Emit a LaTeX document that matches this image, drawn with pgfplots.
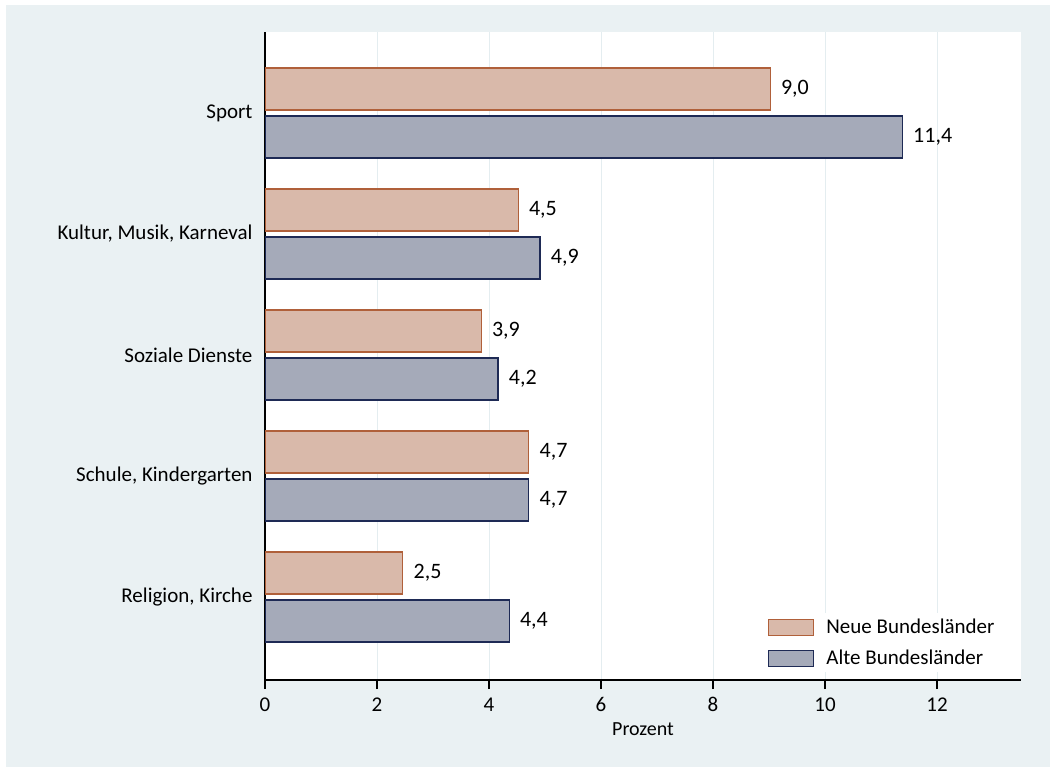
\documentclass[border=0pt]{standalone}
\usepackage{pgfplots}
\pgfplotsset{compat=1.18}
\usepackage{fontspec}
\setmainfont{Carlito}
\definecolor{bg}{HTML}{EAF1F3}
\definecolor{gridc}{HTML}{E4EDF0}
\definecolor{neuefill}{HTML}{D9B9AA}
\definecolor{neueedge}{HTML}{B0603A}
\definecolor{altefill}{HTML}{A5AAB9}
\definecolor{alteedge}{HTML}{1E2A55}
\begin{document}
\begin{tikzpicture}
\useasboundingbox (0,0) rectangle (1050bp,767bp);
\fill[white] (0,0) rectangle (1050bp,767bp);
\fill[bg] (6bp,0) rectangle (1050bp,762bp);
\begin{axis}[
  at={(265bp,87bp)}, anchor=south west,
  scale only axis, width=756bp, height=648bp,
  xbar, bar width=42bp,
  xmin=0, xmax=13.5, ymin=-0.686, ymax=4.669,
  axis background/.style={fill=white},
  axis x line*=bottom, axis y line*=left,
  axis line style={line width=1.2bp, black},
  xtick={0,2,...,12},
  ytick={0,1,2,3,4},
  yticklabels={{Religion, Kirche},{Schule, Kindergarten},{Soziale Dienste},{Kultur, Musik, Karneval},{Sport}},
  y tick style={draw=none},
  x tick style={line width=1.2bp, black},
  tick align=outside, major tick length=9bp,
  xmajorgrids, grid style={gridc, line width=1bp},
  /pgf/number format/assume math mode=true,
  ticklabel style={font=\fontsize{21bp}{25bp}\selectfont},
  yticklabel style={xshift=0bp},
  xticklabel style={yshift=-5bp},
  xlabel={Prozent},
  xlabel style={font=\fontsize{20bp}{24bp}\selectfont, yshift=-4bp},
  nodes near coords,
  nodes near coords style={font=\fontsize{22bp}{26bp}\selectfont, xshift=7bp,
    /pgf/number format/.cd, fixed, fixed zerofill, precision=1, use comma, assume math mode=true},
  legend style={draw=none, fill=white, at={(0.66,0.1035)}, anchor=north west,
    font=\fontsize{21bp}{25bp}\selectfont, row sep=11bp, inner xsep=4bp, inner ysep=4bp,
    nodes={inner xsep=12bp}},
  legend cell align=left,
  legend image code/.code={\draw[#1, line width=1.2bp] (0bp,-8bp) rectangle (45bp,8bp);},
]
\addplot[fill=neuefill, draw=neueedge, line width=1.2bp, bar shift=24bp]
  coordinates {(9.02,4) (4.52,3) (3.86,2) (4.71,1) (2.46,0)};
\addplot[fill=altefill, draw=alteedge, line width=1.2bp, bar shift=-24bp]
  coordinates {(11.38,4) (4.91,3) (4.16,2) (4.71,1) (4.36,0)};
\legend{Neue Bundesländer, Alte Bundesländer}
\end{axis}
\end{tikzpicture}
\end{document}
